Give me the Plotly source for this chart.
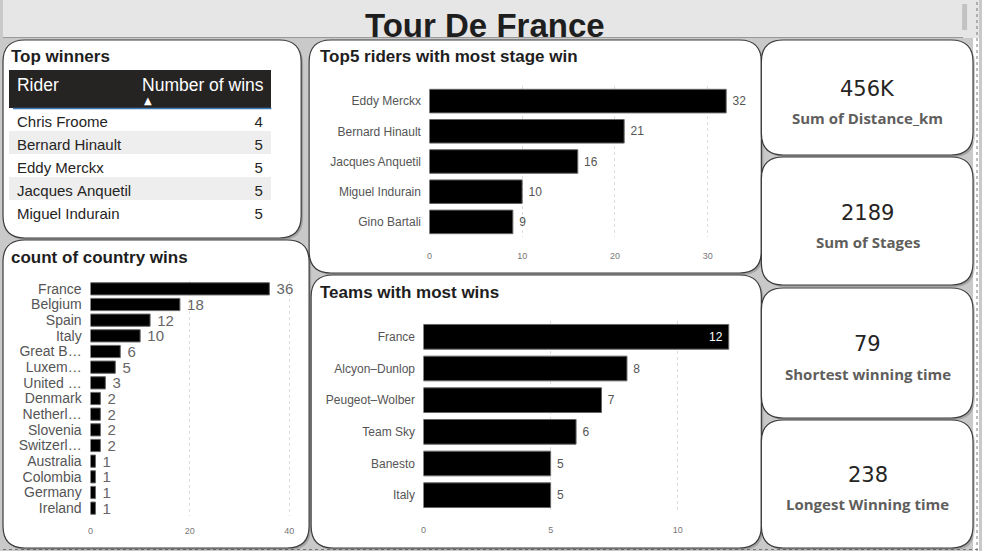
import plotly.graph_objects as go

W, H = 982, 551

# ---------------- data ----------------
winner_riders = ["Chris Froome", "Bernard Hinault", "Eddy Merckx", "Jacques Anquetil", "Miguel Indurain"]
winner_counts = [4, 5, 5, 5, 5]

countries = ["France", "Belgium", "Spain", "Italy", "Great B…", "Luxem…", "United …", "Denmark",
             "Netherl…", "Slovenia", "Switzerl…", "Australia", "Colombia", "Germany", "Ireland"]
country_wins = [36, 18, 12, 10, 6, 5, 3, 2, 2, 2, 2, 1, 1, 1, 1]

stage_riders = ["Eddy Merckx", "Bernard Hinault", "Jacques Anquetil", "Miguel Indurain", "Gino Bartali"]
stage_wins = [32, 21, 16, 10, 9]

teams = ["France", "Alcyon–Dunlop", "Peugeot–Wolber", "Team Sky", "Banesto", "Italy"]
team_wins = [12, 8, 7, 6, 5, 5]

kpi_values = ["456K", "2189", "79", "238"]
kpi_labels = ["Sum of Distance_km", "Sum of Stages", "Shortest winning time", "Longest Winning time"]

# ---------------- helpers ----------------
def px(x):
    return x / W

def py(y):
    return 1 - y / H

def rrect(x0, y0, x1, y1, r):
    X0, X1 = px(x0), px(x1)
    Y0, Y1 = py(y0), py(y1)
    rx, ry = r / W, r / H
    return (f"M{X0+rx},{Y0} L{X1-rx},{Y0} Q{X1},{Y0} {X1},{Y0-ry} "
            f"L{X1},{Y1+ry} Q{X1},{Y1} {X1-rx},{Y1} L{X0+rx},{Y1} "
            f"Q{X0},{Y1} {X0},{Y1+ry} L{X0},{Y0-ry} Q{X0},{Y0} {X0+rx},{Y0} Z")

shapes = []
# header band
shapes.append(dict(type="rect", xref="paper", yref="paper", x0=0, x1=1, y0=py(38), y1=1,
                   fillcolor="#e6e6e6", line=dict(width=0), layer="below"))
shapes.append(dict(type="line", xref="paper", yref="paper", x0=0, x1=px(966), y0=py(37.5), y1=py(37.5),
                   line=dict(color="#9a9a9a", width=1), layer="below"))
# scrollbar
shapes.append(dict(type="rect", xref="paper", yref="paper", x0=px(965), x1=px(970), y0=py(30), y1=py(4),
                   fillcolor="#c2c2c2", line=dict(width=0), layer="below"))
# right white strip
shapes.append(dict(type="rect", xref="paper", yref="paper", x0=px(976), x1=1, y0=0, y1=py(38),
                   fillcolor="#ffffff", line=dict(width=0), layer="below"))
shapes.append(dict(type="line", xref="paper", yref="paper", x0=px(980), x1=px(980), y0=0, y1=1,
                   line=dict(color="#777", width=1, dash="dot"), layer="below"))
shapes.append(dict(type="line", xref="paper", yref="paper", x0=0, x1=1, y0=py(549.5), y1=py(549.5),
                   line=dict(color="#777", width=1, dash="dot"), layer="below"))

panels = [
    (0, 40, 300, 238),
    (0, 240, 308, 548),
    (308, 40, 763, 273),
    (310, 275, 763, 548),
    (763, 40, 976, 155),
    (763, 157, 976, 285),
    (763, 288, 976, 418),
    (763, 420, 976, 548),
]
for (x0, y0, x1, y1) in panels:
    shapes.append(dict(type="path", xref="paper", yref="paper", path=rrect(x0 + 2, y0 + 2, x1 + 2, y1 + 2, 22),
                       fillcolor="rgba(0,0,0,0.18)", line=dict(width=0), layer="below"))
    shapes.append(dict(type="path", xref="paper", yref="paper", path=rrect(x0, y0, x1, y1, 22),
                       fillcolor="#ffffff", line=dict(color="#3a3a3a", width=1.2), layer="below"))

# table header underline
shapes.append(dict(type="line", xref="paper", yref="paper", x0=px(10), x1=px(270), y0=py(108.5), y1=py(108.5),
                   line=dict(color="#3c78b5", width=1.5), layer="above"))

fig = go.Figure()

# ---------------- table ----------------
row_fill = ["#ffffff" if i % 2 == 0 else "#eeeeee" for i in range(len(winner_riders))]
rider_cells = [r.replace(" ", "\u00a0") for r in winner_riders]
fig.add_trace(go.Table(
    domain=dict(x=[px(6), px(270)], y=[py(232), py(70)]),
    columnwidth=[126, 138],
    header=dict(values=["Rider", "Number\u00a0of\u00a0wins"],
                fill_color="#252423", line=dict(color="#252423", width=0),
                font=dict(family="Liberation Sans, Arial", size=17.5, color="#ffffff"),
                align="left", height=38),
    cells=dict(values=[rider_cells, winner_counts],
               fill_color=[row_fill, row_fill],
               line=dict(color="rgba(0,0,0,0)", width=0),
               font=dict(family="Liberation Sans, Arial", size=15, color="#252423"),
               align=["left", "right"], height=23),
))

# ---------------- country wins ----------------
fig.add_trace(go.Bar(
    x=country_wins, y=countries, orientation="h", xaxis="x", yaxis="y",
    marker=dict(color="#000000", line=dict(color="#666666", width=1)),
    text=country_wins, texttemplate="\u00a0%{x}", textposition="outside", cliponaxis=False,
    constraintext="none",
    textfont=dict(family="Liberation Sans, Arial", size=15, color="#666666"),
    hoverinfo="x+y",
))

# ---------------- top5 stage wins ----------------
fig.add_trace(go.Bar(
    x=stage_wins, y=stage_riders, orientation="h", xaxis="x2", yaxis="y2",
    marker=dict(color="#000000", line=dict(color="#666666", width=1)),
    text=stage_wins, texttemplate="\u00a0%{x}", textposition="outside", cliponaxis=False,
    constraintext="none",
    textfont=dict(family="Liberation Sans, Arial", size=12, color="#555555"),
    hoverinfo="x+y",
))

# ---------------- teams ----------------
team_pos = ["inside"] + ["outside"] * (len(teams) - 1)
fig.add_trace(go.Bar(
    x=team_wins, y=teams, orientation="h", xaxis="x3", yaxis="y3",
    marker=dict(color="#000000", line=dict(color="#666666", width=1)),
    text=team_wins, texttemplate="\u00a0%{x}\u00a0", textposition=team_pos, insidetextanchor="end",
    cliponaxis=False, constraintext="none",
    textfont=dict(family="Liberation Sans, Arial", size=12, color="#555555"),
    insidetextfont=dict(family="Liberation Sans, Arial", size=12, color="#ffffff"),
    outsidetextfont=dict(family="Liberation Sans, Arial", size=12, color="#555555"),
    hoverinfo="x+y",
))

def xax(domain, rng, tickvals, ticklen):
    return dict(domain=domain, range=rng, tickvals=tickvals, showgrid=True, gridcolor="#dddddd",
                griddash="dot", gridwidth=1, zeroline=False, showline=False, ticks="outside",
                ticklen=ticklen, tickcolor="rgba(0,0,0,0)",
                tickfont=dict(family="Liberation Sans, Arial", size=9, color="#777777"), fixedrange=True)

def yax(domain, anchor, size, standoff, cats):
    return dict(domain=domain, anchor=anchor, autorange="reversed", showgrid=False, zeroline=False,
                showline=False, ticks="outside", ticklen=standoff, tickcolor="rgba(0,0,0,0)",
                tickmode="array", tickvals=cats, ticktext=cats,
                tickfont=dict(family="Liberation Sans, Arial", size=size, color="#555555"), fixedrange=True)

fig.update_layout(
    width=W, height=H, margin=dict(l=0, r=0, t=0, b=0),
    paper_bgcolor="#c9c9c9", plot_bgcolor="rgba(0,0,0,0)",
    showlegend=False, bargap=0.22,
    shapes=shapes,
    xaxis=xax([px(88), px(290)], [0, 40.4], [0, 20, 40], 6),
    yaxis=yax([py(516), py(281)], "x", 14, 5, countries),
    xaxis2=xax([px(429), px(745)], [0, 33.86], [0, 10, 20, 30], 10),
    yaxis2=yax([py(237), py(86)], "x2", 12, 5, stage_riders),
    xaxis3=xax([px(423), px(743)], [0, 12.5], [0, 5, 10], 10),
    yaxis3=yax([py(511), py(321)], "x3", 12, 5, teams),
)
fig.layout.xaxis.anchor = "y"
fig.layout.xaxis2.anchor = "y2"
fig.layout.xaxis3.anchor = "y3"

annotations = []
annotations.append(dict(text="<b>Tour De France</b>", x=px(485), y=py(25), xref="paper", yref="paper",
                        showarrow=False, xanchor="center", yanchor="middle",
                        font=dict(family="Liberation Sans Narrow, Arial Narrow, Liberation Sans", size=33,
                                  color="#1e1e1e")))
# sort arrow under the table header
annotations.append(dict(text="▲", x=px(140), y=py(100), xref="paper", yref="paper", showarrow=False,
                        xanchor="left", yanchor="middle",
                        font=dict(family="DejaVu Sans", size=10, color="#ffffff")))
titles = [("Top winners", 10, 57), ("count of country wins", 10, 257),
          ("Top5 riders with most stage win", 321, 57), ("Teams with most wins", 321, 292)]
for t, x, y in titles:
    annotations.append(dict(text=f"<b>{t}</b>", x=px(x - 4), y=py(y), xref="paper", yref="paper",
                            showarrow=False, xanchor="left", yanchor="middle",
                            font=dict(family="Liberation Sans, Arial", size=17, color="#1e1e1e")))

kpi_pos = [(870, 89, 118), (870, 213, 242), (870, 344, 374), (870, 475, 504)]
for (x, yv, yl), v, l in zip(kpi_pos, kpi_values, kpi_labels):
    annotations.append(dict(text=v, x=px(x), y=py(yv), xref="paper", yref="paper", showarrow=False,
                            xanchor="center", yanchor="middle",
                            font=dict(family="DejaVu Sans, Noto Sans", size=21, color="#252423")))
    annotations.append(dict(text=f"<b>{l}</b>", x=px(x), y=py(yl), xref="paper", yref="paper", showarrow=False,
                            xanchor="center", yanchor="middle",
                            font=dict(family="Open Sans, Noto Sans", size=15, color="#605e5c")))
fig.update_layout(annotations=annotations)

fig.write_html("out.html")
